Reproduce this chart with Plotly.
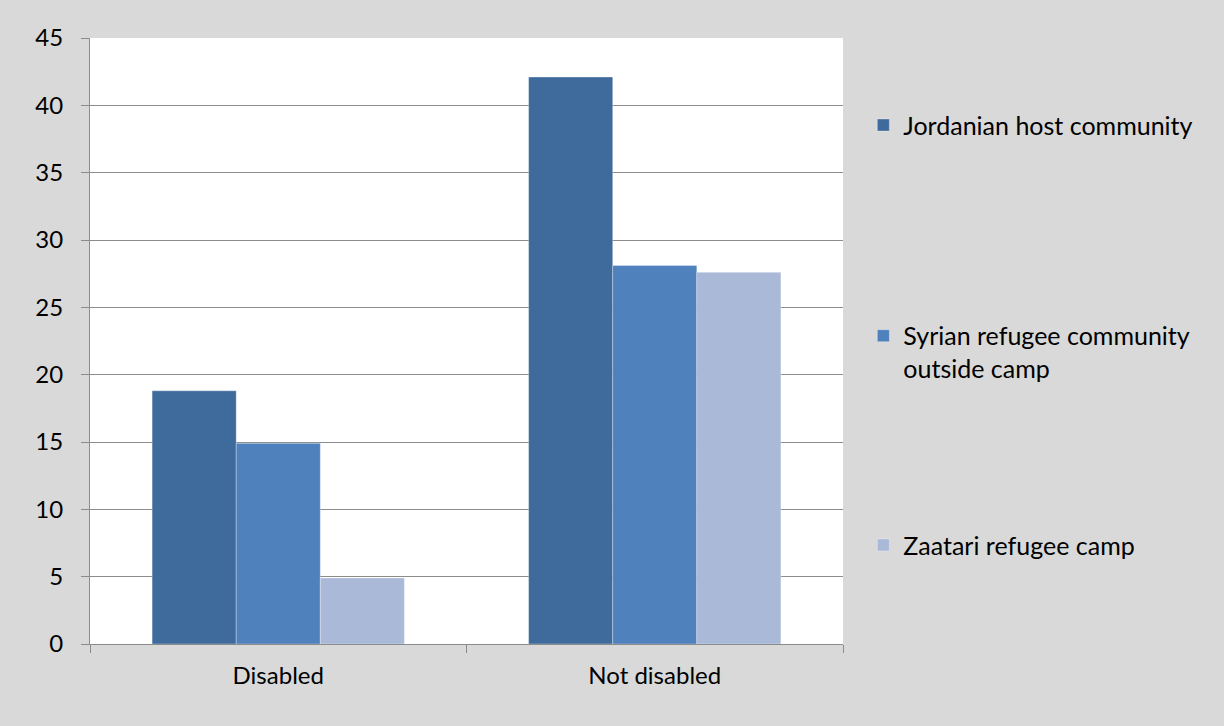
import plotly.graph_objects as go

categories = ["Disabled", "Not disabled"]
series_names = [
    "Jordanian host community",
    "Syrian refugee community<br>outside camp",
    "Zaatari refugee camp",
]
jordanian = [18.8, 42.1]
syrian_outside = [14.9, 28.1]
zaatari = [4.9, 27.6]
colors = ["#3F6A9C", "#4F81BD", "#AAB9D7"]

# one legend per series so each entry can sit where the original has it
legend_ids = ["legend", "legend2", "legend3"]
legend_y = [0.856, 0.482, 0.163]

fig = go.Figure()
for i, (name, vals) in enumerate(zip(series_names, [jordanian, syrian_outside, zaatari])):
    fig.add_trace(go.Bar(
        x=categories, y=vals, name=name, legend=legend_ids[i],
        marker=dict(color=colors[i], line=dict(color="rgba(255,255,255,0.5)", width=0.6)),
    ))

legend_style = dict(x=1.027, xanchor="left", yanchor="middle", bgcolor="rgba(0,0,0,0)",
                    font=dict(size=25), itemwidth=30, valign="top")
fig.update_layout(
    width=1224, height=726,
    paper_bgcolor="#D9D9D9", plot_bgcolor="white",
    margin=dict(l=90, r=381, t=38, b=82),
    barmode="group", bargap=0.33, bargroupgap=0,
    font=dict(family="Lato, Open Sans, sans-serif", size=24, color="black"),
    legend=dict(y=legend_y[0], **legend_style),
    legend2=dict(y=legend_y[1], **legend_style),
    legend3=dict(y=legend_y[2], **legend_style),
    showlegend=True,
)
fig.update_yaxes(
    range=[0, 45], dtick=5, showgrid=True, gridcolor="#8C8C8C", gridwidth=1,
    showline=True, linecolor="#8C8C8C", ticks="outside", ticklen=8, tickcolor="#8C8C8C",
    zeroline=False, tickfont=dict(size=24), ticklabelstandoff=13,
)
fig.update_xaxes(
    showline=True, linecolor="#8C8C8C", ticks="outside", ticklen=8, tickcolor="#8C8C8C",
    tickson="boundaries", tickfont=dict(size=24), ticklabelstandoff=10,
)

# drop the default page margin so the figure fills the window
fig.write_html("out.html", config={"displayModeBar": False},
               post_script="document.body.style.margin='0';")
